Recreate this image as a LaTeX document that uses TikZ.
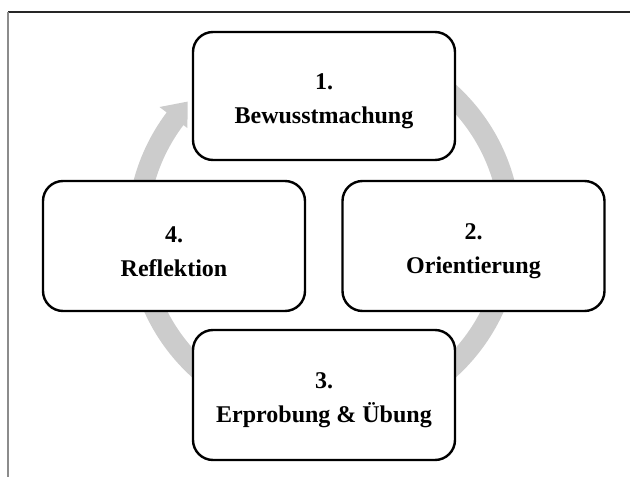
\documentclass[tikz,border=0pt]{standalone}
\usepackage{fontspec}
\setmainfont{Liberation Serif}
\newcommand\phasepad{\rule{0pt}{27pt}}
\tikzset{
    phase/.style={rectangle, rounded corners=20pt, draw=black, line width=2.4pt,
        fill=white, minimum width=262pt, minimum height=130pt, align=center,
        font=\bfseries\fontsize{24}{34}\selectfont},
}
\begin{document}
\begin{tikzpicture}[x=1pt, y=1pt]
            \useasboundingbox (0, 0) rectangle (630, 477);
            %% Frame
            \draw[line width=1.5pt, black!85] (8, 465) -- (630, 465);
            \draw[line width=2pt, black!45] (8, 465) -- (8, 0);
            %% Ring arrow
            \coordinate (mid) at (324, 246);
            \fill[black!20, shift={(mid)}]
                (100:197) arc[start angle=100, end angle=-217, radius=197]
                -- (-217:206) -- (-223.5:188) -- (-217:171) -- (-217:176)
                arc[start angle=-217, end angle=100, radius=176] -- cycle;
            %% Phase Nodes
            \node[phase, minimum height=128pt] (bewusst) at (324, 381) {\phasepad 1.\\ Bewusstmachung};
            \node[phase] (orient) at (473.5, 231) {\phasepad 2.\\ Orientierung};
            \node[phase] (erprob) at (324, 82) {\phasepad 3.\\ Erprobung \& Übung};
            \node[phase] (reflex) at (174, 231) {\phasepad 4.\\ Reflektion};
\end{tikzpicture}
\end{document}
